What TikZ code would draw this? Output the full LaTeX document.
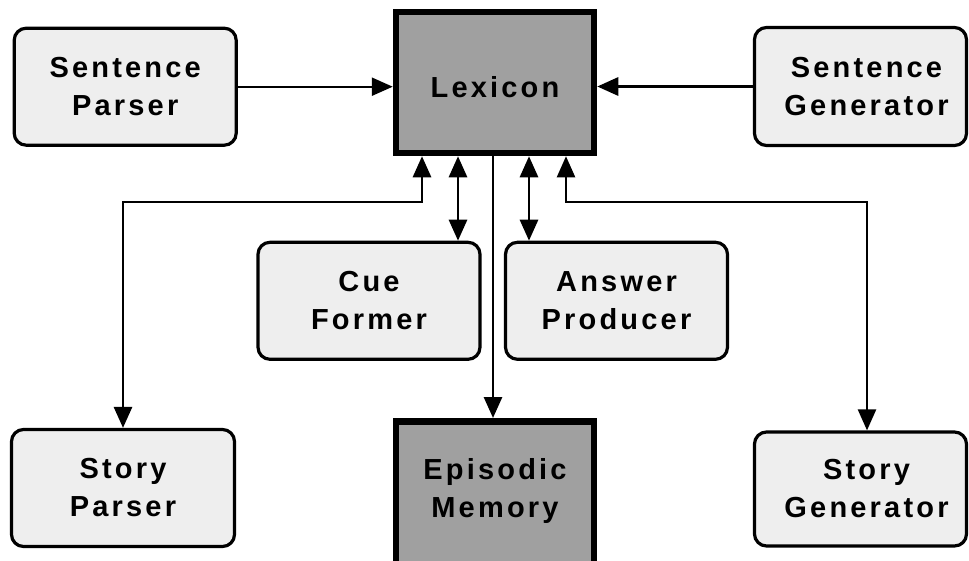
\documentclass[tikz,border=0pt]{standalone}
\usepackage{fontspec}
\newfontfamily\lblfont[LetterSpace=11]{Liberation Sans}
\usetikzlibrary{arrows.meta}
\definecolor{boxfill}{HTML}{EEEEEE}
\definecolor{darkfill}{HTML}{A0A0A0}
\tikzset{
  lbl/.style={align=center, inner sep=0pt,
    font=\lblfont\bfseries\fontsize{29}{38}\selectfont},
  proc/.style={lbl, draw, line width=3.2pt, rounded corners=12pt, fill=boxfill,
    minimum width=222pt, minimum height=117pt},
  store/.style={lbl, draw, line width=6.5pt, fill=darkfill,
    minimum width=198pt, minimum height=141pt},
  conn/.style={line width=2.8pt, -{Triangle[length=21pt,width=18pt]}},
  biconn/.style={line width=2.8pt, {Triangle[length=21pt,width=18pt]}-{Triangle[length=21pt,width=18pt]}},
}
\begin{document}
\begin{tikzpicture}[x=1pt,y=-1pt]
\useasboundingbox (0,0) rectangle (969,560);
\node[proc] (sp) at (125.2,86.7) {Sentence\\Parser};
\node[store] (lex) at (495,82.5) {};
\node[lbl] (lextext) at (495,87) {Lexicon};
\node[proc, minimum width=212pt, minimum height=118pt] (sg) at (860.5,86.5) {\hspace*{12pt}Sentence\\\hspace*{12pt}Generator};
\node[proc] (cf) at (369,300.8) {Cue\\Former};
\node[proc] (ap) at (616.5,300.8) {Answer\\Producer};
\node[proc, minimum width=223pt] (stp) at (123,488) {Story\\Parser};
\node[store, minimum height=200pt, anchor=north] (ep) at (495,418) {};
\node[lbl] (eptext) at (495,491) {Episodic\\Memory};
\node[proc, minimum width=212pt, minimum height=114pt] (stg) at (860.5,489) {\hspace*{12pt}Story\\\hspace*{12pt}Generator};

\coordinate (h1) at (422,202);
\coordinate (h2) at (566,202);
\coordinate (vr) at (867,202);
\coordinate (v1) at (458,0);
\coordinate (v2) at (529,0);
\coordinate (v3) at (493,0);

\draw[conn, line width=2.4pt] (sp.east) -- (sp.east -| lex.west);
\draw[conn, line width=3pt] (sg.west) -- (sg.west -| lex.east);
\draw[biconn] (stp.north) |- (h1) -- (h1 |- lex.south);
\draw[biconn] (v1 |- lex.south) -- (v1 |- cf.north);
\draw[conn] (v3 |- lex.south) -- (v3 |- ep.north);
\draw[biconn] (v2 |- lex.south) -- (v2 |- ap.north);
\draw[biconn, line width=2.3pt] (h2 |- lex.south) -- (h2) -- (vr) -- (vr |- stg.north);
\end{tikzpicture}
\end{document}
